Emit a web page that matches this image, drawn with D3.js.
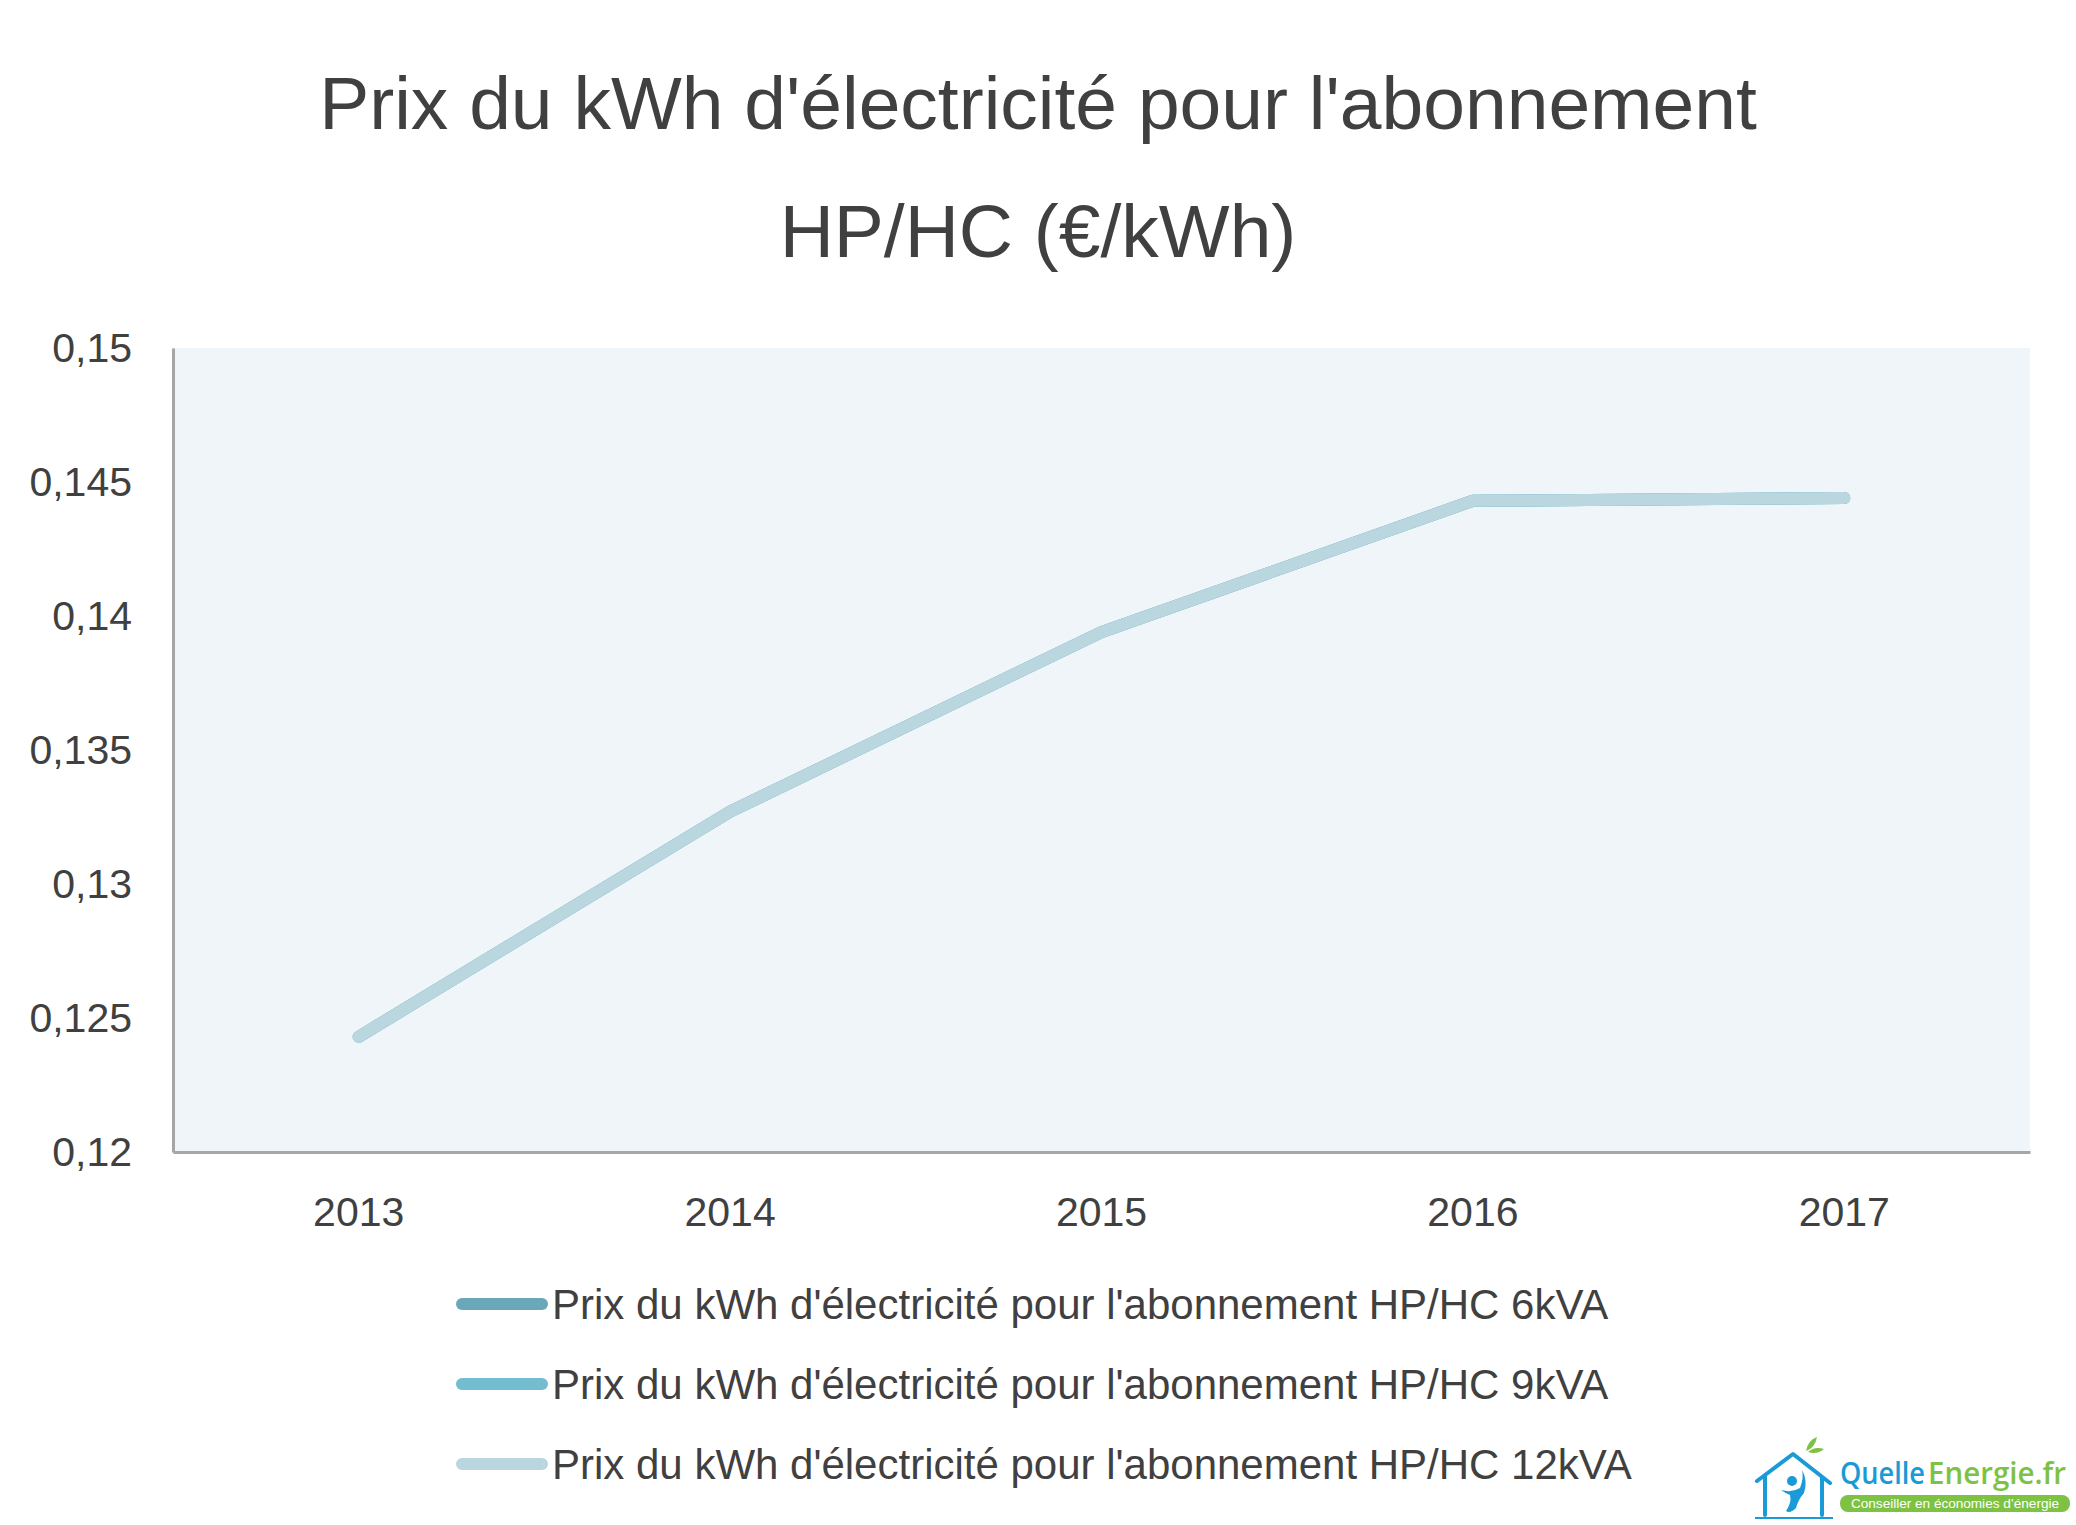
<!DOCTYPE html>
<html>
<head>
<meta charset="utf-8">
<script src="https://cdn.jsdelivr.net/npm/d3@7"></script>
<style>
  html, body { margin: 0; padding: 0; background: #ffffff; }
  svg { display: block; font-family: "Liberation Sans", Arial, sans-serif; }
</style>
</head>
<body>
<svg id="chart" width="2076" height="1525"></svg>
<script>
// ---- data ----
const years = ["2013", "2014", "2015", "2016", "2017"];
const price6kVA  = [0.1243, 0.1327, 0.1394, 0.1443, 0.1444];
const price9kVA  = [0.1243, 0.1327, 0.1394, 0.1443, 0.1444];
const price12kVA = [0.1243, 0.1327, 0.1394, 0.1443, 0.1444];
const seriesNames = [
  "Prix du kWh d'électricité pour l'abonnement HP/HC 6kVA",
  "Prix du kWh d'électricité pour l'abonnement HP/HC 9kVA",
  "Prix du kWh d'électricité pour l'abonnement HP/HC 12kVA"
];
const seriesColors = ["#6aa8b9", "#74bdd1", "#bad7e0"];
const yTicks = [0.12, 0.125, 0.13, 0.135, 0.14, 0.145, 0.15];
const yTickLabels = ["0,12", "0,125", "0,13", "0,135", "0,14", "0,145", "0,15"];
const titleLines = ["Prix du kWh d'électricité pour l'abonnement", "HP/HC (€/kWh)"];

const series = [price6kVA, price9kVA, price12kVA].map((vals, i) => ({
  name: seriesNames[i], color: seriesColors[i],
  values: vals.map((v, j) => ({ year: years[j], value: v }))
}));

// ---- layout ----
const svg = d3.select("#chart");
const plot = { left: 173, right: 2030, top: 348, bottom: 1152 };
const textColor = "#404040";

const x = d3.scaleBand().domain(years).range([plot.left, plot.right]);
const y = d3.scaleLinear().domain([0.12, 0.15]).range([plot.bottom, plot.top]);

// title
svg.append("g").selectAll("text").data(titleLines).join("text")
  .attr("x", 1038).attr("y", (d, i) => 129 + i * 128)
  .attr("text-anchor", "middle").attr("font-size", 75).attr("fill", textColor)
  .text(d => d);

// plot background
svg.append("rect")
  .attr("x", plot.left).attr("y", plot.top)
  .attr("width", plot.right - plot.left).attr("height", plot.bottom - plot.top)
  .attr("fill", "#eff5f8");

// y axis
const yAxis = svg.append("g").attr("transform", `translate(${plot.left},0)`)
  .call(d3.axisLeft(y).tickValues(yTicks).tickSize(0).tickPadding(41)
    .tickFormat((d, i) => yTickLabels[i]));
yAxis.select(".domain").attr("stroke", "#a6a6a6").attr("stroke-width", 3);
yAxis.selectAll("text").attr("font-size", 41).attr("fill", textColor)
  .attr("font-family", "'Liberation Sans', Arial, sans-serif");

// x axis
const xAxis = svg.append("g").attr("transform", `translate(0,${plot.bottom})`)
  .call(d3.axisBottom(x).tickSize(0).tickPadding(45));
xAxis.select(".domain").attr("stroke", "#a6a6a6").attr("stroke-width", 3);
xAxis.selectAll("text").attr("font-size", 41).attr("fill", textColor)
  .attr("font-family", "'Liberation Sans', Arial, sans-serif");

// lines
const line = d3.line()
  .x(d => x(d.year) + x.bandwidth() / 2)
  .y(d => y(d.value));
svg.append("g").selectAll("path").data(series).join("path")
  .attr("d", d => line(d.values))
  .attr("fill", "none").attr("stroke", d => d.color)
  .attr("stroke-width", 12).attr("stroke-linecap", "round").attr("stroke-linejoin", "round");

// legend
const legend = svg.append("g").selectAll("g").data(series).join("g")
  .attr("transform", (d, i) => `translate(0,${1304 + i * 80})`);
legend.append("line")
  .attr("x1", 462).attr("x2", 542).attr("y1", 0).attr("y2", 0)
  .attr("stroke", d => d.color).attr("stroke-width", 12).attr("stroke-linecap", "round");
legend.append("text")
  .attr("x", 552).attr("y", 15).attr("font-size", 42).attr("fill", textColor)
  .text(d => d.name);

// logo
const logo = svg.append("g");
const blue = "#1a9ad6", green = "#7dc242";
logo.append("path")
  .attr("d", "M1757,1481 L1793,1454 L1830,1483 M1765,1476 L1765,1515 M1822,1478 L1822,1515")
  .attr("fill", "none").attr("stroke", blue).attr("stroke-width", 4)
  .attr("stroke-linejoin", "round").attr("stroke-linecap", "round");
logo.append("line").attr("x1", 1755).attr("x2", 1833).attr("y1", 1518).attr("y2", 1518)
  .attr("stroke", blue).attr("stroke-width", 2);
logo.append("circle").attr("cx", 1792).attr("cy", 1481).attr("r", 5).attr("fill", blue);
logo.append("path")
  .attr("d", "M1781,1490 Q1792,1493 1800,1488 Q1804,1478 1802,1470 Q1808,1480 1804,1493 Q1798,1500 1796,1508 Q1790,1514 1786,1511 Q1792,1502 1790,1495 Q1785,1493 1781,1490 Z")
  .attr("fill", blue);
logo.append("path")
  .attr("d", "M1806,1451 Q1808,1440 1817,1437 Q1815,1448 1806,1451 Z M1808,1452 Q1815,1446 1824,1449 Q1817,1455 1808,1452 Z")
  .attr("fill", green);
logo.append("text").attr("x", 1840).attr("y", 1484)
  .attr("font-family", "'Open Sans', sans-serif").attr("font-weight", 600).attr("font-size", 31)
  .attr("textLength", 85).attr("lengthAdjust", "spacingAndGlyphs")
  .attr("fill", blue).text("Quelle");
logo.append("text").attr("x", 1928).attr("y", 1484)
  .attr("font-family", "'Open Sans', sans-serif").attr("font-weight", 600).attr("font-size", 31)
  .attr("textLength", 138).attr("lengthAdjust", "spacingAndGlyphs")
  .attr("fill", green).text("Energie.fr");
logo.append("rect").attr("x", 1840).attr("y", 1495).attr("width", 230).attr("height", 17)
  .attr("rx", 8).attr("fill", green);
logo.append("text").attr("x", 1955).attr("y", 1508).attr("text-anchor", "middle")
  .attr("font-family", "'Liberation Sans', Arial, sans-serif").attr("font-size", 13)
  .attr("fill", "#ffffff").attr("textLength", 208).attr("lengthAdjust", "spacingAndGlyphs")
  .text("Conseiller en économies d’énergie");
</script>
</body>
</html>
